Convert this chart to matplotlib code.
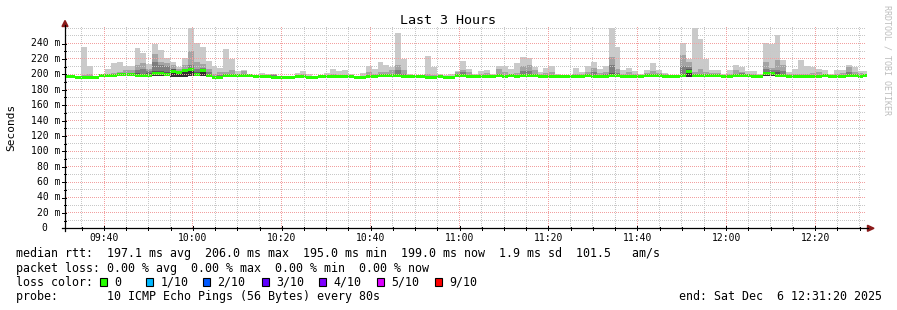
import numpy as np
import matplotlib
matplotlib.use("Agg")
import matplotlib.pyplot as plt
from matplotlib.patches import Polygon, Rectangle
from matplotlib.lines import Line2D
import matplotlib.transforms as mtransforms
from matplotlib.colors import to_rgba

# ---------------- data (one value per 80 s step, in ms) ----------------
median_ms = [
    197, 197, 195.5, 195.5, 195.5, 195.5, 198, 198, 198, 199.5,
    199.5, 199.5, 199, 198.5, 199, 201, 201, 199.5, 204, 202,
    204.5, 206, 200, 204.5, 199, 195.5, 195.5, 198.5, 198.5, 198,
    198, 198, 197.5, 197.5, 197.5, 195.5, 195.5, 195.5, 195.5, 197,
    197, 195.5, 195.5, 197, 197, 197, 197, 197, 196.5, 195.5,
    195.5, 197, 197, 198, 198, 198, 198.5, 197, 196.5, 196.5,
    196.5, 195.5, 195.5, 196.5, 196, 196, 198, 198, 197, 197,
    197, 197, 197, 199, 197, 198, 197, 199, 199, 198,
    197, 197, 197, 197, 197, 197, 197, 197, 198, 197,
    197, 197, 199, 198, 197, 197, 197, 196.5, 198, 198,
    198, 197.5, 196.5, 196.5, 198, 203, 198, 198, 198, 198,
    198, 197, 197, 198, 199, 198, 197, 197, 201, 201,
    199, 198, 197, 197, 197, 197, 197, 197, 198, 197,
    197, 197, 198, 198, 197.5, 199,
]
max_ms = [
    197.5, 197.5, 197, 235, 211, 197, 200, 207, 214.5, 216,
    211, 211, 234, 227.5, 213, 239.5, 231, 221, 216, 209.5,
    221, 260, 240.5, 235.5, 217, 211, 208, 232.5, 220, 204,
    205, 201, 199.5, 202, 200.5, 200.5, 198, 196.5, 196.5, 201.5,
    204, 200, 197, 198, 202, 207.5, 204, 205, 200.5, 197,
    202, 211, 206.5, 215.5, 212.5, 209.5, 253.5, 220.5, 200.5, 198,
    198, 223.5, 209.5, 200.5, 199, 200, 204, 217, 206.5, 200.5,
    204, 205, 200.5, 211, 210.5, 206.5, 214.5, 222, 221, 209.5,
    203, 208, 210.5, 201, 199, 198.5, 208, 203, 210.5, 216,
    206.5, 210.5, 260, 235.5, 205, 208, 204, 200, 205, 214.5,
    206, 201.5, 198.5, 198, 240.5, 220, 260, 245.5, 220.5, 205,
    205, 201, 205, 212.5, 209, 204.5, 204, 201, 240.5, 239,
    250.5, 218, 203, 206.5, 218, 210.5, 209, 207.5, 205, 201,
    205, 206, 212.5, 209.5, 204, 204,
]
p9_ms = [
    197, 197, 196.5, 199, 200, 196.5, 199, 200.5, 202, 203,
    205.5, 205.5, 211.5, 214.5, 207, 226.5, 216.5, 214.5, 212, 207,
    211.5, 230.5, 215.5, 213.5, 207, 200, 202.5, 203, 205, 200.5,
    204.5, 199.5, 199, 199.5, 199.5, 200, 197, 196.5, 196.5, 199.5,
    200, 197.5, 196.5, 197.5, 199, 200.5, 199.5, 199.5, 198.5, 196.5,
    198, 202.5, 200.5, 202.5, 203.5, 205, 212, 205, 198, 197.5,
    197.5, 200.5, 199, 198, 197.5, 198, 202.5, 206, 202.5, 199,
    200.5, 201.5, 199.5, 206.5, 202.5, 200.5, 201.5, 211, 211.5, 205,
    200, 202, 203, 199.5, 198, 198, 201, 200.5, 203.5, 208,
    201.5, 203.5, 223, 207, 201, 202.5, 200.5, 198.5, 201.5, 204,
    201.5, 200, 197.5, 197.5, 225.5, 215.5, 202.5, 207, 203.5, 201.5,
    201.5, 199.5, 200.5, 205.5, 203.5, 201, 200, 199.5, 215.5, 208,
    218.5, 211.5, 200, 201, 200.5, 201, 201.5, 202.5, 200.5, 199,
    200.5, 201.5, 210, 202.5, 201.5, 201,
]
p8_ms = [
    197, 197, 196, 197.5, 198, 196, 198.5, 199.5, 199.5, 200.5,
    201, 201, 205.5, 207, 204.5, 215.5, 211.5, 211, 207, 204,
    207.5, 211.5, 206.5, 208, 203, 197.5, 199, 200, 200.5, 199.5,
    199.5, 199, 198.5, 198.5, 198.5, 198.5, 196.5, 196, 196, 198,
    198.5, 196.5, 196, 197.5, 198, 199, 198, 198, 197.5, 196,
    197, 199, 199, 200.5, 200, 200, 205, 200, 197.5, 197,
    197, 197.5, 197, 197, 197, 197, 199.5, 202.5, 199, 198,
    198.5, 199, 198.5, 200.5, 199.5, 199.5, 198.5, 204, 204.5, 200.5,
    198.5, 198.5, 199, 198.5, 198, 197.5, 198.5, 198.5, 200, 202.5,
    199, 200, 211.5, 202, 199, 199.5, 198.5, 197.5, 199.5, 200.5,
    199.5, 198.5, 197, 197, 211, 209, 200.5, 201, 200, 199.5,
    199.5, 198.5, 198.5, 201, 201.5, 199.5, 198.5, 198.5, 207, 205.5,
    205.5, 204, 198.5, 198.5, 199, 199, 199, 199.5, 199.5, 198,
    199, 199.5, 202.5, 200.5, 199.5, 200,
]
p7_ms = [
    197, 197, 196, 196.5, 197, 196, 198.5, 199, 199, 200,
    200.5, 200.5, 201.5, 201, 201.5, 204.5, 204, 202.5, 206.5, 203.5,
    206.5, 208.5, 203.5, 207, 200.5, 196.5, 197, 199.5, 199.5, 199,
    199, 198.5, 198, 198, 198.5, 198, 196, 196, 196, 197.5,
    197.5, 196, 196, 197.5, 197.5, 198, 197.5, 197.5, 197, 196,
    196.5, 198, 198, 199.5, 199, 199, 201, 198, 197, 197,
    197, 196.5, 196.5, 197, 196.5, 196.5, 199, 200.5, 198, 197.5,
    197.5, 198, 197.5, 200.5, 198, 199, 197.5, 201, 201, 199,
    197.5, 197.5, 197.5, 197.5, 197.5, 197.5, 197.5, 197.5, 199, 199.5,
    198, 198.5, 201.5, 199, 197.5, 198, 197.5, 197, 198.5, 200,
    199, 198, 197, 197, 201, 206.5, 199.5, 199, 199, 198.5,
    198.5, 197.5, 197.5, 199, 200, 198.5, 197.5, 197.5, 203.5, 203.5,
    203, 200, 197.5, 197.5, 198, 197.5, 197.5, 198, 199.5, 197.5,
    197.5, 198, 200.5, 199, 199, 199.5,
]
min_ms = [
    196, 196, 194.5, 194.5, 194.5, 194.5, 196.5, 196.5, 196.5, 197.5,
    197.5, 197.5, 197, 196.5, 197, 198, 198, 197.5, 196.5, 197,
    197, 197.5, 198, 197.5, 196.5, 194.5, 194.5, 196.5, 196.5, 196.5,
    196.5, 196.5, 196, 196, 196, 194, 194, 194, 194, 195.5,
    195.5, 194, 194, 195.5, 195.5, 195.5, 195.5, 195.5, 195, 194,
    194, 195.5, 195.5, 196.5, 196.5, 196.5, 197, 195.5, 195, 195,
    195, 194, 194, 195, 194.5, 194.5, 196.5, 196.5, 195.5, 195.5,
    195.5, 195.5, 195.5, 196, 195.5, 196.5, 195.5, 197, 197, 196.5,
    195.5, 195.5, 195.5, 195.5, 195.5, 195.5, 195.5, 195.5, 196.5, 195.5,
    195.5, 195.5, 196.5, 196.5, 195.5, 195.5, 195.5, 195, 196.5, 196.5,
    196.5, 196, 195, 195, 196.5, 197, 196.5, 196.5, 196.5, 196.5,
    196.5, 195.5, 195.5, 196.5, 197.5, 196.5, 195.5, 195.5, 197.5, 197.5,
    197.5, 196.5, 195.5, 195.5, 195.5, 195.5, 195.5, 195.5, 196.5, 195.5,
    195.5, 195.5, 196.5, 196.5, 196, 197.5,
]

step_seconds = 80
view_start_min = 9 * 60 + 31 + 20 / 60      # 09:31:20
view_end_min = 12 * 60 + 31 + 20 / 60       # 12:31:20
first_step_offset_s = -28                   # first step starts 28 s before the view

x_tick_labels = ["09:40", "10:00", "10:20", "10:40", "11:00", "11:20", "11:40", "12:00", "12:20"]
x_tick_minutes = [580, 600, 620, 640, 660, 680, 700, 720, 740]
y_tick_values = [0, 20, 40, 60, 80, 100, 120, 140, 160, 180, 200, 220, 240]
y_tick_labels = ["0", "20 m", "40 m", "60 m", "80 m", "100 m", "120 m", "140 m",
                 "160 m", "180 m", "200 m", "220 m", "240 m"]

title = "Last 3 Hours"
y_label = "Seconds"
watermark = "RRDTOOL / TOBI OETIKER"
legend_lines = [
    "median rtt:  197.1 ms avg  206.0 ms max  195.0 ms min  199.0 ms now  1.9 ms sd  101.5   am/s",
    "packet loss: 0.00 % avg  0.00 % max  0.00 % min  0.00 % now",
]
loss_title = "loss color:"
loss_labels = ["0", "1/10", "2/10", "3/10", "4/10", "5/10", "9/10"]
loss_colors = ["#26ff00", "#00b8ff", "#0059ff", "#5e00ff", "#7e00ff", "#dd00ff", "#ff0000"]
probe_text = "probe:       10 ICMP Echo Pings (56 Bytes) every 80s"
end_text = "end: Sat Dec  6 12:31:20 2025"

n = len(median_ms)
for arr in (max_ms, p9_ms, p8_ms, p7_ms, min_ms):
    assert len(arr) == n

# ---------------- figure ----------------
W, H = 897, 310
fig = plt.figure(figsize=(W / 100, H / 100), dpi=100, facecolor="white")
MONO = "DejaVu Sans Mono"


def fx(x):
    return x / W


def fy(y):
    return 1 - y / H


L, R, T, B = 65.5, 865.5, 26.5, 228.3
ax = fig.add_axes([fx(L), fy(B), (R - L) / W, (B - T) / H])
ax.set_xlim(view_start_min, view_end_min)
ymax = (B - T) / 0.77
ax.set_ylim(0, ymax)
ax.axis("off")

edges = view_start_min + first_step_offset_s / 60 + np.arange(n + 1) * step_seconds / 60


def ext(a):
    a = np.asarray(a, dtype=float)
    return np.append(a, a[-1])


lo = ext(min_ms)
layers = [(max_ms, "#cacaca"), (p9_ms, "#a4a4a4"), (p8_ms, "#7e7e7e"),
          (p7_ms, "#585858"), (median_ms, "#323232")]
for hi, col in layers:
    ax.fill_between(edges, lo, ext(hi), step="post", color=col, linewidth=0,
                    antialiased=False, zorder=2)

med = ext(median_ms)
ax.fill_between(edges, med - 1.95, med + 1.95, step="post", color="#26ff00",
                linewidth=0, antialiased=False, zorder=3)

# ---------------- dotted grid, pixel exact, drawn over the data ----------------
grid_grey = to_rgba("#c8c8c8")
grid_red = to_rgba("#f2a0a0")
grid_img = np.zeros((H, W, 4))
col_lo, col_hi = int(np.ceil(L)), int(np.floor(R))
row_top = int(np.ceil(T))


def hline(v, rgba):
    yd = ax.transData.transform((view_start_min, v))[1]
    row = H - 1 - int(np.floor(yd))
    cols = np.arange(col_lo, col_hi)
    cols = cols[cols % 2 == 0]
    grid_img[row, cols] = rgba


def vline(m, rgba):
    xd = ax.transData.transform((m, 0))[0]
    col = int(np.floor(xd))
    ybot = ax.transData.transform((m, 0))[1]
    rows = np.arange(row_top, H - 1 - int(np.floor(ybot)))
    rows = rows[rows % 2 == 1]
    grid_img[rows, col] = rgba


minor_h = [v for v in range(10, 270, 10) if v <= ymax and not (v % 20 == 0 and v <= 240)]
major_h = [v for v in range(20, 250, 20)]
minor_v = [m for m in range(575, 752, 5) if m % 20 != 0]
major_v = [m for m in range(580, 752, 20)]
for v in minor_h:
    hline(v, grid_grey)
for m in minor_v:
    vline(m, grid_grey)
for v in major_h:
    hline(v, grid_red)
for m in major_v:
    vline(m, grid_red)
fig.figimage(grid_img, xo=0, yo=0, origin="upper", zorder=1)

# ---------------- axes, ticks and arrows ----------------
axis_col = "#000000"
arrow_col = "#8b1a1a"
fig.add_artist(Line2D([fx(62), fx(868)], [fy(B), fy(B)], color=axis_col, linewidth=0.9))
fig.add_artist(Line2D([fx(L - 0.5), fx(L - 0.5)], [fy(B + 3), fy(25)], color=axis_col, linewidth=0.9))
fig.add_artist(Polygon([(fx(L - 0.5), fy(20.5)), (fx(L - 3.5), fy(26.5)), (fx(L + 2.5), fy(26.5))],
                       closed=True, color=arrow_col, transform=fig.transFigure))
fig.add_artist(Polygon([(fx(874), fy(B)), (fx(867.5), fy(B - 3)), (fx(867.5), fy(B + 3))],
                       closed=True, color=arrow_col, transform=fig.transFigure))

xdata_fig = mtransforms.blended_transform_factory(ax.transData, fig.transFigure)
yfig_data = mtransforms.blended_transform_factory(fig.transFigure, ax.transData)

for m in range(575, 752, 5):
    h = 2 if m % 20 == 0 else 1.5
    fig.add_artist(Line2D([m, m], [fy(B - h), fy(B + h)], color=axis_col, linewidth=0.72,
                          transform=xdata_fig))
for v in range(10, 250, 10):
    ln = 4 if v % 20 == 0 else 2
    fig.add_artist(Line2D([fx(L - ln), fx(L)], [v, v], color=axis_col, linewidth=0.72,
                          transform=yfig_data))

# tick labels
for mval, lab in zip(x_tick_minutes, x_tick_labels):
    fig.text(mval, fy(238), lab, transform=xdata_fig, ha="center", va="center",
             fontsize=7, family=MONO, color="#000000")
for v, lab in zip(y_tick_values, y_tick_labels):
    xr = 60.5 if v != 0 else 47.5
    fig.text(fx(xr), v, lab, transform=yfig_data, ha="right", va="center",
             fontsize=7, family=MONO, color="#000000")

# titles
fig.text(fx(448), fy(20), title, ha="center", va="center", fontsize=9.6, family=MONO)
fig.text(fx(11), fy(127), y_label, rotation=90, ha="center", va="center", fontsize=8, family=MONO)
fig.text(fx(886.5), fy(60), watermark, rotation=270, ha="center", va="center",
         fontsize=6, family=MONO, color="#bdbdbd")

# legend
fig.text(fx(16), fy(254), legend_lines[0], ha="left", va="center", fontsize=8.4, family=MONO)
fig.text(fx(16), fy(268.5), legend_lines[1], ha="left", va="center", fontsize=8.4, family=MONO)
fig.text(fx(16), fy(282), loss_title, ha="left", va="center", fontsize=8.4, family=MONO)
box_x = [100, 145.7, 203, 261.7, 319, 376.7, 435]
for bx, lab, col in zip(box_x, loss_labels, loss_colors):
    fig.add_artist(Rectangle((fx(bx), fy(285.5)), 7 / W, 7.5 / H, facecolor=col,
                             edgecolor="#000000", linewidth=0.8, transform=fig.transFigure))
    fig.text(fx(bx + 14.5), fy(282), lab, ha="left", va="center", fontsize=8.4, family=MONO)
fig.text(fx(16), fy(296.3), probe_text, ha="left", va="center", fontsize=8.4, family=MONO)
fig.text(fx(881.5), fy(296.3), end_text, ha="right", va="center", fontsize=8.4, family=MONO)

fig.savefig("out.png", dpi=100, facecolor="white")
